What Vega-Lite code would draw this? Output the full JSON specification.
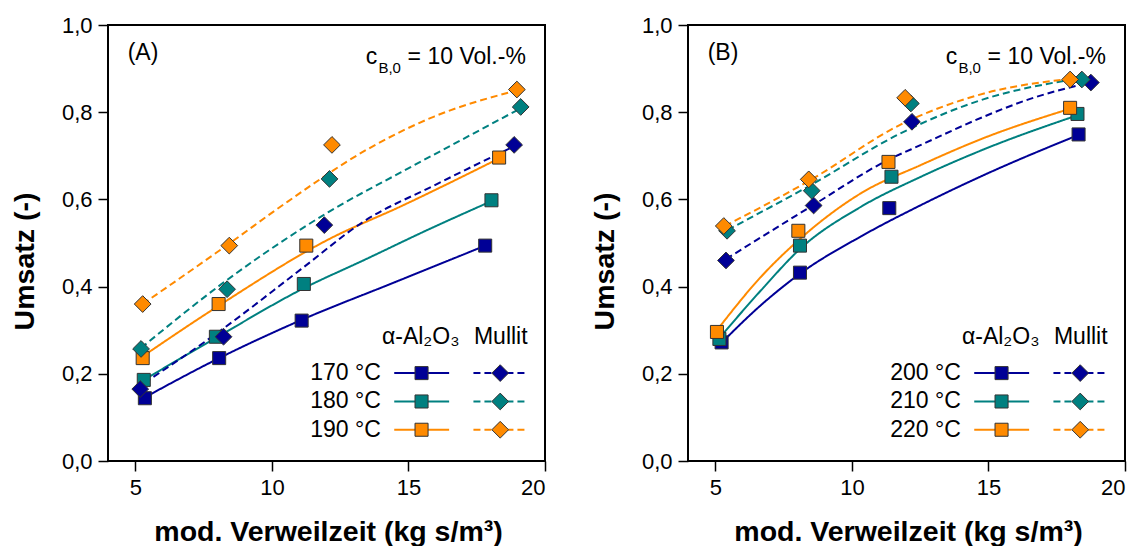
{
  "$schema": "https://vega.github.io/schema/vega-lite/v6.json",
  "background": "white",
  "padding": {"left": 9, "top": 13, "right": 0, "bottom": 0},
  "spacing": 143,
  "bounds": "flush",
  "config": {
    "font": "Liberation Sans",
    "view": {"stroke": "black", "strokeWidth": 2},
    "axis": {"labelFont": "Liberation Sans", "labelFontSize": 22, "labelColor": "black", "titleFont": "Liberation Sans", "titleFontSize": 28.5, "titleFontWeight": "bold", "titleColor": "black", "tickColor": "black", "tickSize": 10, "tickWidth": 1.5, "domain": false, "grid": false},
    "text": {"font": "Liberation Sans", "color": "black"}
  },
  "datasets": {
    "ptsA": [
      {"level": "T1", "material": "Al2O3", "x": 5.35, "y": 0.144}, {"level": "T1", "material": "Al2O3", "x": 8.07, "y": 0.236}, {"level": "T1", "material": "Al2O3", "x": 11.09, "y": 0.322}, {"level": "T1", "material": "Al2O3", "x": 17.81, "y": 0.494},
      {"level": "T2", "material": "Al2O3", "x": 5.31, "y": 0.186}, {"level": "T2", "material": "Al2O3", "x": 7.95, "y": 0.285}, {"level": "T2", "material": "Al2O3", "x": 11.17, "y": 0.406}, {"level": "T2", "material": "Al2O3", "x": 18.04, "y": 0.598},
      {"level": "T3", "material": "Al2O3", "x": 5.27, "y": 0.236}, {"level": "T3", "material": "Al2O3", "x": 8.05, "y": 0.36}, {"level": "T3", "material": "Al2O3", "x": 11.26, "y": 0.494}, {"level": "T3", "material": "Al2O3", "x": 18.32, "y": 0.696},
      {"level": "T1", "material": "Mullit", "x": 5.18, "y": 0.165}, {"level": "T1", "material": "Mullit", "x": 8.23, "y": 0.285}, {"level": "T1", "material": "Mullit", "x": 11.92, "y": 0.541}, {"level": "T1", "material": "Mullit", "x": 18.87, "y": 0.725},
      {"level": "T2", "material": "Mullit", "x": 5.21, "y": 0.257}, {"level": "T2", "material": "Mullit", "x": 8.36, "y": 0.394}, {"level": "T2", "material": "Mullit", "x": 12.11, "y": 0.647}, {"level": "T2", "material": "Mullit", "x": 19.11, "y": 0.812},
      {"level": "T3", "material": "Mullit", "x": 5.27, "y": 0.36}, {"level": "T3", "material": "Mullit", "x": 8.44, "y": 0.494}, {"level": "T3", "material": "Mullit", "x": 12.2, "y": 0.725}, {"level": "T3", "material": "Mullit", "x": 18.97, "y": 0.852}
    ],
    "crvA": [
      {"level": "T1", "material": "Al2O3", "x": 5.35, "y": 0.146}, {"level": "T1", "material": "Al2O3", "x": 8.07, "y": 0.236}, {"level": "T1", "material": "Al2O3", "x": 11.1, "y": 0.324}, {"level": "T1", "material": "Al2O3", "x": 14.5, "y": 0.41}, {"level": "T1", "material": "Al2O3", "x": 17.81, "y": 0.494},
      {"level": "T2", "material": "Al2O3", "x": 5.31, "y": 0.186}, {"level": "T2", "material": "Al2O3", "x": 8.02, "y": 0.285}, {"level": "T2", "material": "Al2O3", "x": 11.16, "y": 0.396}, {"level": "T2", "material": "Al2O3", "x": 13.38, "y": 0.461}, {"level": "T2", "material": "Al2O3", "x": 15.7, "y": 0.53}, {"level": "T2", "material": "Al2O3", "x": 18.04, "y": 0.596},
      {"level": "T3", "material": "Al2O3", "x": 5.27, "y": 0.24}, {"level": "T3", "material": "Al2O3", "x": 8.05, "y": 0.356}, {"level": "T3", "material": "Al2O3", "x": 12.16, "y": 0.511}, {"level": "T3", "material": "Al2O3", "x": 14.72, "y": 0.584}, {"level": "T3", "material": "Al2O3", "x": 18.32, "y": 0.694},
      {"level": "T1", "material": "Mullit", "x": 5.33, "y": 0.179}, {"level": "T1", "material": "Mullit", "x": 8.14, "y": 0.3}, {"level": "T1", "material": "Mullit", "x": 11.07, "y": 0.44}, {"level": "T1", "material": "Mullit", "x": 13.38, "y": 0.55}, {"level": "T1", "material": "Mullit", "x": 15.94, "y": 0.632}, {"level": "T1", "material": "Mullit", "x": 18.87, "y": 0.722},
      {"level": "T2", "material": "Mullit", "x": 5.21, "y": 0.259}, {"level": "T2", "material": "Mullit", "x": 8.14, "y": 0.405}, {"level": "T2", "material": "Mullit", "x": 11.07, "y": 0.532}, {"level": "T2", "material": "Mullit", "x": 12.1, "y": 0.572}, {"level": "T2", "material": "Mullit", "x": 14.72, "y": 0.662}, {"level": "T2", "material": "Mullit", "x": 16.9, "y": 0.735}, {"level": "T2", "material": "Mullit", "x": 19.11, "y": 0.809},
      {"level": "T3", "material": "Mullit", "x": 5.27, "y": 0.36}, {"level": "T3", "material": "Mullit", "x": 8.47, "y": 0.5}, {"level": "T3", "material": "Mullit", "x": 10.58, "y": 0.595}, {"level": "T3", "material": "Mullit", "x": 13.5, "y": 0.715}, {"level": "T3", "material": "Mullit", "x": 15.94, "y": 0.79}, {"level": "T3", "material": "Mullit", "x": 18.97, "y": 0.85}
    ],
    "ptsB": [
      {"level": "T1", "material": "Al2O3", "x": 5.23, "y": 0.272}, {"level": "T1", "material": "Al2O3", "x": 8.1, "y": 0.432}, {"level": "T1", "material": "Al2O3", "x": 11.37, "y": 0.58}, {"level": "T1", "material": "Al2O3", "x": 18.3, "y": 0.749},
      {"level": "T2", "material": "Al2O3", "x": 5.15, "y": 0.28}, {"level": "T2", "material": "Al2O3", "x": 8.1, "y": 0.494}, {"level": "T2", "material": "Al2O3", "x": 11.45, "y": 0.652}, {"level": "T2", "material": "Al2O3", "x": 18.26, "y": 0.796},
      {"level": "T3", "material": "Al2O3", "x": 5.06, "y": 0.296}, {"level": "T3", "material": "Al2O3", "x": 8.04, "y": 0.528}, {"level": "T3", "material": "Al2O3", "x": 11.34, "y": 0.686}, {"level": "T3", "material": "Al2O3", "x": 17.99, "y": 0.81},
      {"level": "T1", "material": "Mullit", "x": 5.39, "y": 0.46}, {"level": "T1", "material": "Mullit", "x": 8.6, "y": 0.586}, {"level": "T1", "material": "Mullit", "x": 12.2, "y": 0.778}, {"level": "T1", "material": "Mullit", "x": 18.75, "y": 0.868},
      {"level": "T2", "material": "Mullit", "x": 5.43, "y": 0.528}, {"level": "T2", "material": "Mullit", "x": 8.53, "y": 0.62}, {"level": "T2", "material": "Mullit", "x": 12.16, "y": 0.82}, {"level": "T2", "material": "Mullit", "x": 18.42, "y": 0.875},
      {"level": "T3", "material": "Mullit", "x": 5.31, "y": 0.539}, {"level": "T3", "material": "Mullit", "x": 8.42, "y": 0.646}, {"level": "T3", "material": "Mullit", "x": 11.95, "y": 0.833}, {"level": "T3", "material": "Mullit", "x": 17.99, "y": 0.875}
    ],
    "crvB": [
      {"level": "T1", "material": "Al2O3", "x": 5.21, "y": 0.27}, {"level": "T1", "material": "Al2O3", "x": 6.68, "y": 0.358}, {"level": "T1", "material": "Al2O3", "x": 8.13, "y": 0.431}, {"level": "T1", "material": "Al2O3", "x": 10.33, "y": 0.515}, {"level": "T1", "material": "Al2O3", "x": 12.53, "y": 0.587}, {"level": "T1", "material": "Al2O3", "x": 14.84, "y": 0.656}, {"level": "T1", "material": "Al2O3", "x": 18.3, "y": 0.748},
      {"level": "T2", "material": "Al2O3", "x": 5.15, "y": 0.282}, {"level": "T2", "material": "Al2O3", "x": 6.68, "y": 0.392}, {"level": "T2", "material": "Al2O3", "x": 8.13, "y": 0.488}, {"level": "T2", "material": "Al2O3", "x": 10.33, "y": 0.583}, {"level": "T2", "material": "Al2O3", "x": 12.53, "y": 0.652}, {"level": "T2", "material": "Al2O3", "x": 14.84, "y": 0.715}, {"level": "T2", "material": "Al2O3", "x": 18.26, "y": 0.793},
      {"level": "T3", "material": "Al2O3", "x": 5.06, "y": 0.3}, {"level": "T3", "material": "Al2O3", "x": 6.68, "y": 0.423}, {"level": "T3", "material": "Al2O3", "x": 8.13, "y": 0.511}, {"level": "T3", "material": "Al2O3", "x": 10.33, "y": 0.614}, {"level": "T3", "material": "Al2O3", "x": 12.53, "y": 0.679}, {"level": "T3", "material": "Al2O3", "x": 14.84, "y": 0.741}, {"level": "T3", "material": "Al2O3", "x": 17.99, "y": 0.808},
      {"level": "T1", "material": "Mullit", "x": 5.39, "y": 0.463}, {"level": "T1", "material": "Mullit", "x": 8.56, "y": 0.586}, {"level": "T1", "material": "Mullit", "x": 11.31, "y": 0.69}, {"level": "T1", "material": "Mullit", "x": 12.53, "y": 0.725}, {"level": "T1", "material": "Mullit", "x": 14.84, "y": 0.79}, {"level": "T1", "material": "Mullit", "x": 16.5, "y": 0.83}, {"level": "T1", "material": "Mullit", "x": 18.3, "y": 0.862},
      {"level": "T2", "material": "Mullit", "x": 5.45, "y": 0.53}, {"level": "T2", "material": "Mullit", "x": 8.5, "y": 0.633}, {"level": "T2", "material": "Mullit", "x": 11.8, "y": 0.752}, {"level": "T2", "material": "Mullit", "x": 14.84, "y": 0.83}, {"level": "T2", "material": "Mullit", "x": 17.95, "y": 0.874},
      {"level": "T3", "material": "Mullit", "x": 5.35, "y": 0.539}, {"level": "T3", "material": "Mullit", "x": 8.5, "y": 0.645}, {"level": "T3", "material": "Mullit", "x": 11.8, "y": 0.772}, {"level": "T3", "material": "Mullit", "x": 14.84, "y": 0.843}, {"level": "T3", "material": "Mullit", "x": 17.9, "y": 0.876}
    ],
    "leg": [
      {"level": "T1", "material": "Al2O3", "xa": 14.48, "xb": 16.49, "xm": 15.48, "y": 0.2016},
      {"level": "T1", "material": "Mullit", "xa": 17.38, "xb": 19.3, "xm": 18.36, "y": 0.2016},
      {"level": "T2", "material": "Al2O3", "xa": 14.48, "xb": 16.49, "xm": 15.48, "y": 0.1365},
      {"level": "T2", "material": "Mullit", "xa": 17.38, "xb": 19.3, "xm": 18.36, "y": 0.1365},
      {"level": "T3", "material": "Al2O3", "xa": 14.48, "xb": 16.49, "xm": 15.48, "y": 0.0717},
      {"level": "T3", "material": "Mullit", "xa": 17.38, "xb": 19.3, "xm": 18.36, "y": 0.0717}
    ],
    "hdr": [
      {"x": 15.45, "y": 0.285, "text": "α-Al₂O₃"},
      {"x": 18.38, "y": 0.285, "text": "Mullit"}
    ],
    "sub": [{"x": 13.9, "y": 0.902, "text": "B,0"}],
    "leftA": [{"x": 4.72, "y": 0.935, "text": "(A)"}, {"x": 13.44, "y": 0.927, "text": "c"}],
    "leftB": [{"x": 4.72, "y": 0.935, "text": "(B)"}, {"x": 13.44, "y": 0.927, "text": "c"}],
    "rightA": [{"x": 19.3, "y": 0.927, "text": "= 10 Vol.-%"}, {"x": 13.99, "y": 0.2016, "text": "170 °C"}, {"x": 13.99, "y": 0.1365, "text": "180 °C"}, {"x": 13.99, "y": 0.0717, "text": "190 °C"}],
    "rightB": [{"x": 19.3, "y": 0.927, "text": "= 10 Vol.-%"}, {"x": 13.99, "y": 0.2016, "text": "200 °C"}, {"x": 13.99, "y": 0.1365, "text": "210 °C"}, {"x": 13.99, "y": 0.0717, "text": "220 °C"}]
  },
  "hconcat": [
    {
      "width": 437, "height": 436,
      "layer": [
        {"data": {"name": "crvA"}, "mark": {"type": "line", "strokeWidth": 2, "interpolate": "monotone"},
         "encoding": {
           "x": {"field": "x", "type": "quantitative", "scale": {"domain": [4, 20], "nice": false}, "axis": {"values": [5, 10, 15, 20], "title": "mod. Verweilzeit (kg s/m³)", "labelPadding": 6, "titleX": 220, "titleY": 79, "titleBaseline": "alphabetic", "titleAnchor": null}},
           "y": {"field": "y", "type": "quantitative", "scale": {"domain": [0, 1], "nice": false}, "axis": {"values": [0, 0.2, 0.4, 0.6, 0.8, 1.0], "labelExpr": "replace(format(datum.value, '.1f'), '.', ',')", "title": "Umsatz (-)", "labelPadding": 6, "titleAngle": 270, "titleX": -84, "titleY": 236, "titleBaseline": "middle", "titleAlign": "center"}},
           "color": {"field": "level", "type": "nominal", "scale": {"domain": ["T1", "T2", "T3"], "range": ["#000096", "#008080", "#FF8A00"]}, "legend": null},
           "strokeDash": {"field": "material", "type": "nominal", "scale": {"domain": ["Al2O3", "Mullit"], "range": [[1, 0], [7, 4]]}, "legend": null}
         }},
        {"data": {"name": "ptsA"}, "mark": {"type": "point", "filled": true, "opacity": 1, "stroke": "#333333", "strokeWidth": 1},
         "encoding": {
           "x": {"field": "x", "type": "quantitative"},
           "y": {"field": "y", "type": "quantitative"},
           "color": {"field": "level", "type": "nominal", "legend": null},
           "shape": {"field": "material", "type": "nominal", "scale": {"domain": ["Al2O3", "Mullit"], "range": ["square", "diamond"]}, "legend": null},
           "size": {"field": "material", "type": "nominal", "scale": {"domain": ["Al2O3", "Mullit"], "range": [170, 280]}, "legend": null}
         }},
        {"data": {"name": "leg"}, "mark": {"type": "rule", "strokeWidth": 2},
         "encoding": {
           "x": {"field": "xa", "type": "quantitative"}, "x2": {"field": "xb"},
           "y": {"field": "y", "type": "quantitative"},
           "color": {"field": "level", "type": "nominal", "legend": null},
           "strokeDash": {"field": "material", "type": "nominal", "legend": null}
         }},
        {"data": {"name": "leg"}, "mark": {"type": "point", "filled": true, "opacity": 1, "stroke": "#333333", "strokeWidth": 1},
         "encoding": {
           "x": {"field": "xm", "type": "quantitative"},
           "y": {"field": "y", "type": "quantitative"},
           "color": {"field": "level", "type": "nominal", "legend": null},
           "shape": {"field": "material", "type": "nominal", "legend": null},
           "size": {"field": "material", "type": "nominal", "legend": null}
         }},
        {"data": {"name": "hdr"}, "mark": {"type": "text", "fontSize": 23, "align": "center", "baseline": "middle"},
         "encoding": {"x": {"field": "x", "type": "quantitative"}, "y": {"field": "y", "type": "quantitative"}, "text": {"field": "text"}}},
        {"data": {"name": "leftA"}, "mark": {"type": "text", "fontSize": 23, "align": "left", "baseline": "middle"},
         "encoding": {"x": {"field": "x", "type": "quantitative"}, "y": {"field": "y", "type": "quantitative"}, "text": {"field": "text"}}},
        {"data": {"name": "sub"}, "mark": {"type": "text", "fontSize": 15, "align": "left", "baseline": "middle"},
         "encoding": {"x": {"field": "x", "type": "quantitative"}, "y": {"field": "y", "type": "quantitative"}, "text": {"field": "text"}}},
        {"data": {"name": "rightA"}, "mark": {"type": "text", "fontSize": 23, "align": "right", "baseline": "middle"},
         "encoding": {"x": {"field": "x", "type": "quantitative"}, "y": {"field": "y", "type": "quantitative"}, "text": {"field": "text"}}}
      ]
    },
    {
      "width": 437, "height": 436,
      "layer": [
        {"data": {"name": "crvB"}, "mark": {"type": "line", "strokeWidth": 2, "interpolate": "monotone"},
         "encoding": {
           "x": {"field": "x", "type": "quantitative", "scale": {"domain": [4, 20], "nice": false}, "axis": {"values": [5, 10, 15, 20], "title": "mod. Verweilzeit (kg s/m³)", "labelPadding": 6, "titleX": 220, "titleY": 79, "titleBaseline": "alphabetic", "titleAnchor": null}},
           "y": {"field": "y", "type": "quantitative", "scale": {"domain": [0, 1], "nice": false}, "axis": {"values": [0, 0.2, 0.4, 0.6, 0.8, 1.0], "labelExpr": "replace(format(datum.value, '.1f'), '.', ',')", "title": "Umsatz (-)", "labelPadding": 6, "titleAngle": 270, "titleX": -84, "titleY": 236, "titleBaseline": "middle", "titleAlign": "center"}},
           "color": {"field": "level", "type": "nominal", "scale": {"domain": ["T1", "T2", "T3"], "range": ["#000096", "#008080", "#FF8A00"]}, "legend": null},
           "strokeDash": {"field": "material", "type": "nominal", "scale": {"domain": ["Al2O3", "Mullit"], "range": [[1, 0], [7, 4]]}, "legend": null}
         }},
        {"data": {"name": "ptsB"}, "mark": {"type": "point", "filled": true, "opacity": 1, "stroke": "#333333", "strokeWidth": 1},
         "encoding": {
           "x": {"field": "x", "type": "quantitative"},
           "y": {"field": "y", "type": "quantitative"},
           "color": {"field": "level", "type": "nominal", "legend": null},
           "shape": {"field": "material", "type": "nominal", "scale": {"domain": ["Al2O3", "Mullit"], "range": ["square", "diamond"]}, "legend": null},
           "size": {"field": "material", "type": "nominal", "scale": {"domain": ["Al2O3", "Mullit"], "range": [170, 280]}, "legend": null}
         }},
        {"data": {"name": "leg"}, "mark": {"type": "rule", "strokeWidth": 2},
         "encoding": {
           "x": {"field": "xa", "type": "quantitative"}, "x2": {"field": "xb"},
           "y": {"field": "y", "type": "quantitative"},
           "color": {"field": "level", "type": "nominal", "legend": null},
           "strokeDash": {"field": "material", "type": "nominal", "legend": null}
         }},
        {"data": {"name": "leg"}, "mark": {"type": "point", "filled": true, "opacity": 1, "stroke": "#333333", "strokeWidth": 1},
         "encoding": {
           "x": {"field": "xm", "type": "quantitative"},
           "y": {"field": "y", "type": "quantitative"},
           "color": {"field": "level", "type": "nominal", "legend": null},
           "shape": {"field": "material", "type": "nominal", "legend": null},
           "size": {"field": "material", "type": "nominal", "legend": null}
         }},
        {"data": {"name": "hdr"}, "mark": {"type": "text", "fontSize": 23, "align": "center", "baseline": "middle"},
         "encoding": {"x": {"field": "x", "type": "quantitative"}, "y": {"field": "y", "type": "quantitative"}, "text": {"field": "text"}}},
        {"data": {"name": "leftB"}, "mark": {"type": "text", "fontSize": 23, "align": "left", "baseline": "middle"},
         "encoding": {"x": {"field": "x", "type": "quantitative"}, "y": {"field": "y", "type": "quantitative"}, "text": {"field": "text"}}},
        {"data": {"name": "sub"}, "mark": {"type": "text", "fontSize": 15, "align": "left", "baseline": "middle"},
         "encoding": {"x": {"field": "x", "type": "quantitative"}, "y": {"field": "y", "type": "quantitative"}, "text": {"field": "text"}}},
        {"data": {"name": "rightB"}, "mark": {"type": "text", "fontSize": 23, "align": "right", "baseline": "middle"},
         "encoding": {"x": {"field": "x", "type": "quantitative"}, "y": {"field": "y", "type": "quantitative"}, "text": {"field": "text"}}}
      ]
    }
  ]
}
